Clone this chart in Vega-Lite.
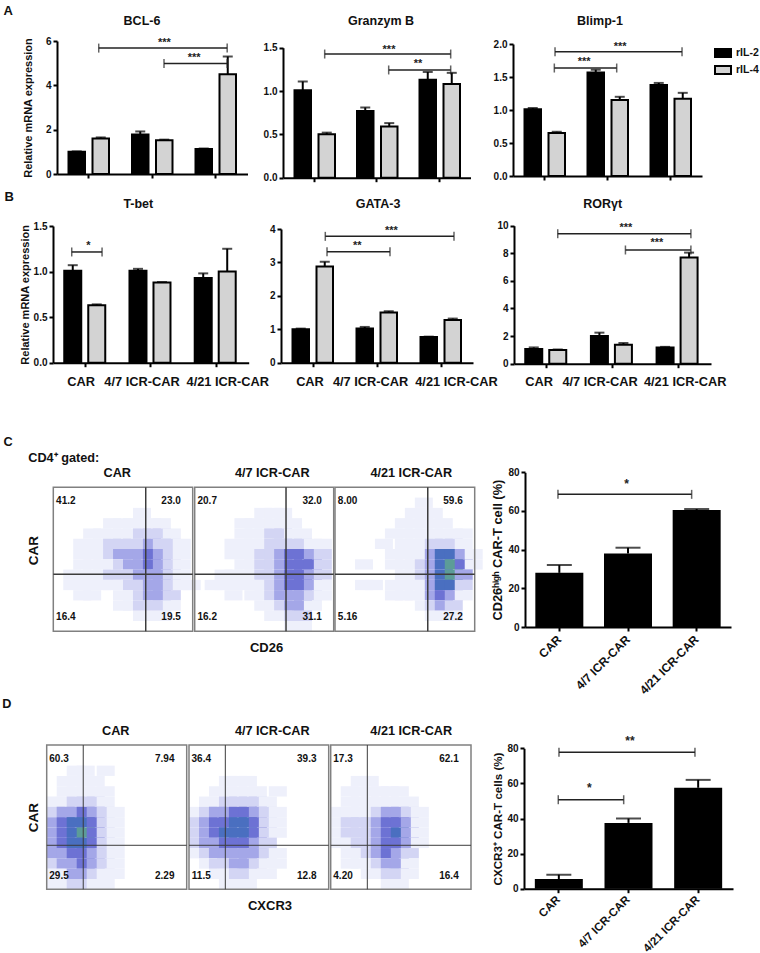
{"$schema":"https://vega.github.io/schema/vega-lite/v6.json","padding":0,"columns":4,"spacing":0,"bounds":"flush","background":"white",
"config":{"font":"Liberation Sans","view":{"stroke":null},"axis":{"grid":false,"labelFontWeight":"bold","labelFontSize":10,"labelColor":"#111","titleFontWeight":"bold","titleColor":"#111","tickColor":"black","domainColor":"black","tickWidth":2,"domainWidth":2,"tickSize":4,"labelPadding":2,"labelFlush":false,"labelOverlap":false},"title":{"fontWeight":"bold","fontSize":12.5,"color":"#111","anchor":"start","frame":"group","baseline":"middle","offset":0},"legend":{"labelFontWeight":"bold","labelFontSize":10.5,"labelColor":"#111"}},
"resolve":{"scale":{"color":"independent"},"legend":{"color":"independent"}},
"datasets":{
"bars":[
{"p":"BCL-6","g":"CAR","s":"rIL-2","v":1.0,"u":1.02},{"p":"BCL-6","g":"CAR","s":"rIL-4","v":1.6,"u":1.65},{"p":"BCL-6","g":"4/7 ICR-CAR","s":"rIL-2","v":1.78,"u":1.92},{"p":"BCL-6","g":"4/7 ICR-CAR","s":"rIL-4","v":1.52,"u":1.55},{"p":"BCL-6","g":"4/21 ICR-CAR","s":"rIL-2","v":1.13,"u":1.15},{"p":"BCL-6","g":"4/21 ICR-CAR","s":"rIL-4","v":4.5,"u":5.3},
{"p":"GZMB","g":"CAR","s":"rIL-2","v":1.01,"u":1.11},{"p":"GZMB","g":"CAR","s":"rIL-4","v":0.5,"u":0.52},{"p":"GZMB","g":"4/7 ICR-CAR","s":"rIL-2","v":0.77,"u":0.81},{"p":"GZMB","g":"4/7 ICR-CAR","s":"rIL-4","v":0.59,"u":0.63},{"p":"GZMB","g":"4/21 ICR-CAR","s":"rIL-2","v":1.13,"u":1.22},{"p":"GZMB","g":"4/21 ICR-CAR","s":"rIL-4","v":1.08,"u":1.21},
{"p":"BLIMP","g":"CAR","s":"rIL-2","v":1.01,"u":1.03},{"p":"BLIMP","g":"CAR","s":"rIL-4","v":0.65,"u":0.67},{"p":"BLIMP","g":"4/7 ICR-CAR","s":"rIL-2","v":1.57,"u":1.61},{"p":"BLIMP","g":"4/7 ICR-CAR","s":"rIL-4","v":1.15,"u":1.2},{"p":"BLIMP","g":"4/21 ICR-CAR","s":"rIL-2","v":1.38,"u":1.41},{"p":"BLIMP","g":"4/21 ICR-CAR","s":"rIL-4","v":1.17,"u":1.26},
{"p":"TBET","g":"CAR","s":"rIL-2","v":1.01,"u":1.07},{"p":"TBET","g":"CAR","s":"rIL-4","v":0.63,"u":0.64},{"p":"TBET","g":"4/7 ICR-CAR","s":"rIL-2","v":1.01,"u":1.03},{"p":"TBET","g":"4/7 ICR-CAR","s":"rIL-4","v":0.88,"u":0.885},{"p":"TBET","g":"4/21 ICR-CAR","s":"rIL-2","v":0.93,"u":0.98},{"p":"TBET","g":"4/21 ICR-CAR","s":"rIL-4","v":1.0,"u":1.25},
{"p":"GATA","g":"CAR","s":"rIL-2","v":1.0,"u":1.02},{"p":"GATA","g":"CAR","s":"rIL-4","v":2.88,"u":3.02},{"p":"GATA","g":"4/7 ICR-CAR","s":"rIL-2","v":1.02,"u":1.07},{"p":"GATA","g":"4/7 ICR-CAR","s":"rIL-4","v":1.5,"u":1.54},{"p":"GATA","g":"4/21 ICR-CAR","s":"rIL-2","v":0.77,"u":0.78},{"p":"GATA","g":"4/21 ICR-CAR","s":"rIL-4","v":1.28,"u":1.32},
{"p":"ROR","g":"CAR","s":"rIL-2","v":1.07,"u":1.18},{"p":"ROR","g":"CAR","s":"rIL-4","v":1.0,"u":1.03},{"p":"ROR","g":"4/7 ICR-CAR","s":"rIL-2","v":2.0,"u":2.25},{"p":"ROR","g":"4/7 ICR-CAR","s":"rIL-4","v":1.37,"u":1.5},{"p":"ROR","g":"4/21 ICR-CAR","s":"rIL-2","v":1.17,"u":1.22},{"p":"ROR","g":"4/21 ICR-CAR","s":"rIL-4","v":7.7,"u":8.05},
{"p":"CD26","g":"CAR","v":28,"u":32},{"p":"CD26","g":"4/7 ICR-CAR","v":38,"u":41},{"p":"CD26","g":"4/21 ICR-CAR","v":60.5,"u":61},
{"p":"CXCR3","g":"CAR","v":5.5,"u":8},{"p":"CXCR3","g":"4/7 ICR-CAR","v":37.5,"u":40},{"p":"CXCR3","g":"4/21 ICR-CAR","v":57.5,"u":62}
],
"brk":[
{"p":"BCL-6","b":1,"x":0.657,"y":5.68},{"p":"BCL-6","b":1,"x":2.68,"y":5.68},{"p":"BCL-6","b":2,"x":1.685,"y":4.99},{"p":"BCL-6","b":2,"x":2.68,"y":4.99},{"p":"BCL-6","s":"***","x":1.69,"y":5.99},{"p":"BCL-6","s":"***","x":2.16,"y":5.32},
{"p":"GZMB","b":1,"x":0.667,"y":1.427},{"p":"GZMB","b":1,"x":2.683,"y":1.427},{"p":"GZMB","b":2,"x":1.691,"y":1.243},{"p":"GZMB","b":2,"x":2.683,"y":1.243},{"p":"GZMB","s":"***","x":1.696,"y":1.5},{"p":"GZMB","s":"**","x":2.16,"y":1.331},
{"p":"BLIMP","b":1,"x":0.667,"y":1.883},{"p":"BLIMP","b":1,"x":2.683,"y":1.883},{"p":"BLIMP","b":2,"x":0.656,"y":1.636},{"p":"BLIMP","b":2,"x":1.646,"y":1.636},{"p":"BLIMP","s":"***","x":1.7,"y":1.99},{"p":"BLIMP","s":"***","x":1.13,"y":1.762},
{"p":"TBET","b":1,"x":0.287,"y":1.215},{"p":"TBET","b":1,"x":0.752,"y":1.215},{"p":"TBET","s":"*","x":0.541,"y":1.302},
{"p":"TBET","l":"CAR","x":0.43,"y":-0.208},{"p":"TBET","l":"4/7 ICR-CAR","x":1.365,"y":-0.208},{"p":"TBET","l":"4/21 ICR-CAR","x":2.68,"y":-0.208},
{"p":"GATA","b":1,"x":0.692,"y":3.78},{"p":"GATA","b":1,"x":2.703,"y":3.78},{"p":"GATA","b":2,"x":0.719,"y":3.32},{"p":"GATA","b":2,"x":1.703,"y":3.32},{"p":"GATA","s":"***","x":1.724,"y":3.99},{"p":"GATA","s":"**","x":1.192,"y":3.55},
{"p":"GATA","l":"CAR","x":0.453,"y":-0.569},{"p":"GATA","l":"4/7 ICR-CAR","x":1.4,"y":-0.569},{"p":"GATA","l":"4/21 ICR-CAR","x":2.742,"y":-0.569},
{"p":"ROR","b":1,"x":0.666,"y":9.42},{"p":"ROR","b":1,"x":2.694,"y":9.42},{"p":"ROR","b":2,"x":1.697,"y":8.24},{"p":"ROR","b":2,"x":2.694,"y":8.24},{"p":"ROR","s":"***","x":1.703,"y":9.96},{"p":"ROR","s":"***","x":2.175,"y":8.87},
{"p":"ROR","l":"CAR","x":0.381,"y":-1.3},{"p":"ROR","l":"4/7 ICR-CAR","x":1.311,"y":-1.3},{"p":"ROR","l":"4/21 ICR-CAR","x":2.607,"y":-1.3},
{"p":"CD26","b":1,"x":0.48,"y":68.6},{"p":"CD26","b":1,"x":2.427,"y":68.6},{"p":"CD26","s":"*","x":1.481,"y":75.1},
{"p":"CXCR3","b":1,"x":0.502,"y":77.7},{"p":"CXCR3","b":1,"x":2.454,"y":77.7},{"p":"CXCR3","b":2,"x":0.492,"y":50.7},{"p":"CXCR3","b":2,"x":1.431,"y":50.7},{"p":"CXCR3","s":"**","x":1.521,"y":85.3},{"p":"CXCR3","s":"*","x":0.937,"y":58.5}
],
"ov":[
{"p":"C1","k":"b","x":0,"y":0,"x2":100,"y2":100},{"p":"C1","k":"v","x":66.3,"y":0},{"p":"C1","k":"v","x":66.3,"y":100},{"p":"C1","k":"h","x":0,"y":60.4},{"p":"C1","k":"h","x":100,"y":60.4},
{"p":"C1","n":"41.2","x":9,"y":9.3},{"p":"C1","n":"23.0","x":84.5,"y":9.3},{"p":"C1","n":"16.4","x":9,"y":90.3},{"p":"C1","n":"19.5","x":84.5,"y":90.3},
{"p":"C1","a":"C","x":-32.5,"y":-31.7},{"p":"C1","a":"CD4⁺ gated:","x":7.5,"y":-20.1},{"p":"C1","a":"CAR","x":45.9,"y":-10.1},
{"p":"C2","k":"b","x":0,"y":0,"x2":100,"y2":100},{"p":"C2","k":"v","x":65.7,"y":0},{"p":"C2","k":"v","x":65.7,"y":100},{"p":"C2","k":"h","x":0,"y":60.4},{"p":"C2","k":"h","x":100,"y":60.4},
{"p":"C2","n":"20.7","x":9,"y":9.3},{"p":"C2","n":"32.0","x":84.5,"y":9.3},{"p":"C2","n":"16.2","x":9,"y":90.3},{"p":"C2","n":"31.1","x":84.5,"y":90.3},{"p":"C2","a":"4/7 ICR-CAR","x":55.8,"y":-10.1},
{"p":"C3","k":"b","x":0,"y":0,"x2":100,"y2":100},{"p":"C3","k":"v","x":66.4,"y":0},{"p":"C3","k":"v","x":66.4,"y":100},{"p":"C3","k":"h","x":0,"y":60.4},{"p":"C3","k":"h","x":100,"y":60.4},
{"p":"C3","n":"8.00","x":9,"y":9.3},{"p":"C3","n":"59.6","x":84.5,"y":9.3},{"p":"C3","n":"5.16","x":9,"y":90.3},{"p":"C3","n":"27.2","x":84.5,"y":90.3},{"p":"C3","a":"4/21 ICR-CAR","x":54.6,"y":-10.1},
{"p":"D1","k":"b","x":0,"y":0,"x2":100,"y2":100},{"p":"D1","k":"v","x":26.1,"y":0},{"p":"D1","k":"v","x":26.1,"y":100},{"p":"D1","k":"h","x":0,"y":69.5},{"p":"D1","k":"h","x":100,"y":69.5},
{"p":"D1","n":"60.3","x":8.8,"y":9.5},{"p":"D1","n":"7.94","x":84.3,"y":9.5},{"p":"D1","n":"29.5","x":8.8,"y":90.6},{"p":"D1","n":"2.29","x":84.3,"y":90.6},
{"p":"D1","a":"D","x":-28.5,"y":-28.2},{"p":"D1","a":"CAR","x":49.3,"y":-9.5},
{"p":"D2","k":"b","x":0,"y":0,"x2":100,"y2":100},{"p":"D2","k":"v","x":26,"y":0},{"p":"D2","k":"v","x":26,"y":100},{"p":"D2","k":"h","x":0,"y":69.5},{"p":"D2","k":"h","x":100,"y":69.5},
{"p":"D2","n":"36.4","x":8.8,"y":9.5},{"p":"D2","n":"39.3","x":84.3,"y":9.5},{"p":"D2","n":"11.5","x":8.8,"y":90.6},{"p":"D2","n":"12.8","x":84.3,"y":90.6},{"p":"D2","a":"4/7 ICR-CAR","x":59.6,"y":-9.5},
{"p":"D3","k":"b","x":0,"y":0,"x2":100,"y2":100},{"p":"D3","k":"v","x":26.1,"y":0},{"p":"D3","k":"v","x":26.1,"y":100},{"p":"D3","k":"h","x":0,"y":69.5},{"p":"D3","k":"h","x":100,"y":69.5},
{"p":"D3","n":"17.3","x":8.8,"y":9.5},{"p":"D3","n":"62.1","x":84.3,"y":9.5},{"p":"D3","n":"4.20","x":8.8,"y":90.6},{"p":"D3","n":"16.4","x":84.3,"y":90.6},{"p":"D3","a":"4/21 ICR-CAR","x":57.4,"y":-9.5}
],
"c1":[{"c":8,"r":2,"d":1},{"c":5,"r":3,"d":1},{"c":6,"r":3,"d":1},{"c":7,"r":3,"d":1},{"c":8,"r":3,"d":1},{"c":9,"r":3,"d":1},{"c":10,"r":3,"d":1},{"c":3,"r":4,"d":1},{"c":4,"r":4,"d":1},{"c":5,"r":4,"d":1},{"c":6,"r":4,"d":1},{"c":7,"r":4,"d":1},{"c":8,"r":4,"d":2},{"c":9,"r":4,"d":2},{"c":10,"r":4,"d":2},{"c":11,"r":4,"d":1},{"c":2,"r":5,"d":1},{"c":3,"r":5,"d":1},{"c":4,"r":5,"d":1},{"c":5,"r":5,"d":2},{"c":6,"r":5,"d":2},{"c":7,"r":5,"d":2},{"c":8,"r":5,"d":2},{"c":9,"r":5,"d":3},{"c":10,"r":5,"d":2},{"c":11,"r":5,"d":2},{"c":12,"r":5,"d":1},{"c":2,"r":6,"d":1},{"c":3,"r":6,"d":1},{"c":4,"r":6,"d":1},{"c":5,"r":6,"d":2},{"c":6,"r":6,"d":3},{"c":7,"r":6,"d":3},{"c":8,"r":6,"d":3},{"c":9,"r":6,"d":4},{"c":10,"r":6,"d":3},{"c":11,"r":6,"d":2},{"c":12,"r":6,"d":1},{"c":2,"r":7,"d":1},{"c":3,"r":7,"d":1},{"c":4,"r":7,"d":1},{"c":5,"r":7,"d":1},{"c":6,"r":7,"d":2},{"c":7,"r":7,"d":3},{"c":8,"r":7,"d":3},{"c":9,"r":7,"d":4},{"c":10,"r":7,"d":3},{"c":11,"r":7,"d":2},{"c":12,"r":7,"d":1},{"c":1,"r":8,"d":1},{"c":2,"r":8,"d":1},{"c":3,"r":8,"d":1},{"c":4,"r":8,"d":1},{"c":5,"r":8,"d":2},{"c":6,"r":8,"d":2},{"c":7,"r":8,"d":2},{"c":8,"r":8,"d":3},{"c":9,"r":8,"d":3},{"c":10,"r":8,"d":3},{"c":11,"r":8,"d":2},{"c":12,"r":8,"d":1},{"c":1,"r":9,"d":1},{"c":2,"r":9,"d":1},{"c":3,"r":9,"d":1},{"c":4,"r":9,"d":1},{"c":5,"r":9,"d":1},{"c":6,"r":9,"d":1},{"c":7,"r":9,"d":2},{"c":8,"r":9,"d":2},{"c":9,"r":9,"d":3},{"c":10,"r":9,"d":3},{"c":11,"r":9,"d":2},{"c":12,"r":9,"d":1},{"c":13,"r":9,"d":1},{"c":2,"r":10,"d":1},{"c":3,"r":10,"d":1},{"c":6,"r":10,"d":1},{"c":7,"r":10,"d":1},{"c":8,"r":10,"d":2},{"c":9,"r":10,"d":3},{"c":10,"r":10,"d":3},{"c":11,"r":10,"d":2},{"c":6,"r":11,"d":1},{"c":7,"r":11,"d":1},{"c":8,"r":11,"d":2},{"c":9,"r":11,"d":2},{"c":10,"r":11,"d":2},{"c":11,"r":11,"d":1},{"c":8,"r":12,"d":1},{"c":9,"r":12,"d":1},{"c":10,"r":12,"d":1}],
"c2":[{"c":6,"r":2,"d":1},{"c":7,"r":2,"d":1},{"c":8,"r":2,"d":1},{"c":4,"r":3,"d":1},{"c":5,"r":3,"d":1},{"c":6,"r":3,"d":1},{"c":7,"r":3,"d":1},{"c":8,"r":3,"d":1},{"c":9,"r":3,"d":1},{"c":4,"r":4,"d":1},{"c":5,"r":4,"d":1},{"c":6,"r":4,"d":1},{"c":7,"r":4,"d":2},{"c":8,"r":4,"d":2},{"c":9,"r":4,"d":1},{"c":10,"r":4,"d":1},{"c":3,"r":5,"d":1},{"c":4,"r":5,"d":1},{"c":5,"r":5,"d":1},{"c":6,"r":5,"d":1},{"c":7,"r":5,"d":2},{"c":8,"r":5,"d":2},{"c":9,"r":5,"d":2},{"c":10,"r":5,"d":2},{"c":11,"r":5,"d":1},{"c":12,"r":5,"d":1},{"c":3,"r":6,"d":1},{"c":4,"r":6,"d":1},{"c":5,"r":6,"d":1},{"c":6,"r":6,"d":2},{"c":7,"r":6,"d":2},{"c":8,"r":6,"d":3},{"c":9,"r":6,"d":4},{"c":10,"r":6,"d":4},{"c":11,"r":6,"d":3},{"c":12,"r":6,"d":2},{"c":4,"r":7,"d":1},{"c":5,"r":7,"d":1},{"c":6,"r":7,"d":2},{"c":7,"r":7,"d":2},{"c":8,"r":7,"d":3},{"c":9,"r":7,"d":4},{"c":10,"r":7,"d":4},{"c":11,"r":7,"d":4},{"c":12,"r":7,"d":2},{"c":2,"r":8,"d":1},{"c":3,"r":8,"d":1},{"c":4,"r":8,"d":1},{"c":5,"r":8,"d":1},{"c":6,"r":8,"d":2},{"c":7,"r":8,"d":2},{"c":8,"r":8,"d":3},{"c":9,"r":8,"d":4},{"c":10,"r":8,"d":4},{"c":11,"r":8,"d":3},{"c":12,"r":8,"d":2},{"c":1,"r":9,"d":1},{"c":2,"r":9,"d":1},{"c":3,"r":9,"d":1},{"c":4,"r":9,"d":1},{"c":5,"r":9,"d":1},{"c":6,"r":9,"d":1},{"c":7,"r":9,"d":2},{"c":8,"r":9,"d":3},{"c":9,"r":9,"d":4},{"c":10,"r":9,"d":4},{"c":11,"r":9,"d":3},{"c":12,"r":9,"d":1},{"c":3,"r":10,"d":1},{"c":5,"r":10,"d":1},{"c":6,"r":10,"d":1},{"c":7,"r":10,"d":2},{"c":8,"r":10,"d":3},{"c":9,"r":10,"d":3},{"c":10,"r":10,"d":3},{"c":11,"r":10,"d":2},{"c":12,"r":10,"d":1},{"c":6,"r":11,"d":1},{"c":7,"r":11,"d":1},{"c":8,"r":11,"d":2},{"c":9,"r":11,"d":3},{"c":10,"r":11,"d":3},{"c":11,"r":11,"d":1},{"c":7,"r":12,"d":1},{"c":8,"r":12,"d":1},{"c":9,"r":12,"d":2},{"c":10,"r":12,"d":2},{"c":9,"r":13,"d":1},{"c":10,"r":13,"d":1}],
"c3":[{"c":8,"r":1,"d":1},{"c":7,"r":2,"d":1},{"c":8,"r":2,"d":1},{"c":9,"r":2,"d":1},{"c":6,"r":3,"d":1},{"c":7,"r":3,"d":1},{"c":8,"r":3,"d":1},{"c":9,"r":3,"d":1},{"c":10,"r":3,"d":1},{"c":5,"r":4,"d":1},{"c":6,"r":4,"d":1},{"c":7,"r":4,"d":1},{"c":8,"r":4,"d":1},{"c":9,"r":4,"d":1},{"c":10,"r":4,"d":1},{"c":11,"r":4,"d":1},{"c":12,"r":4,"d":1},{"c":4,"r":5,"d":1},{"c":6,"r":5,"d":1},{"c":7,"r":5,"d":1},{"c":8,"r":5,"d":1},{"c":9,"r":5,"d":2},{"c":10,"r":5,"d":2},{"c":11,"r":5,"d":2},{"c":12,"r":5,"d":1},{"c":5,"r":6,"d":1},{"c":6,"r":6,"d":1},{"c":7,"r":6,"d":1},{"c":8,"r":6,"d":1},{"c":9,"r":6,"d":3},{"c":10,"r":6,"d":5},{"c":11,"r":6,"d":5},{"c":12,"r":6,"d":3},{"c":13,"r":6,"d":1},{"c":2,"r":7,"d":1},{"c":5,"r":7,"d":1},{"c":6,"r":7,"d":1},{"c":7,"r":7,"d":1},{"c":8,"r":7,"d":2},{"c":9,"r":7,"d":3},{"c":10,"r":7,"d":5},{"c":11,"r":7,"d":6},{"c":12,"r":7,"d":4},{"c":13,"r":7,"d":1},{"c":6,"r":8,"d":1},{"c":7,"r":8,"d":1},{"c":8,"r":8,"d":2},{"c":9,"r":8,"d":3},{"c":10,"r":8,"d":5},{"c":11,"r":8,"d":6},{"c":12,"r":8,"d":3},{"c":2,"r":9,"d":1},{"c":3,"r":9,"d":1},{"c":5,"r":9,"d":1},{"c":6,"r":9,"d":1},{"c":7,"r":9,"d":1},{"c":8,"r":9,"d":1},{"c":9,"r":9,"d":3},{"c":10,"r":9,"d":5},{"c":11,"r":9,"d":5},{"c":12,"r":9,"d":2},{"c":5,"r":10,"d":1},{"c":6,"r":10,"d":1},{"c":7,"r":10,"d":1},{"c":8,"r":10,"d":1},{"c":9,"r":10,"d":3},{"c":10,"r":10,"d":4},{"c":11,"r":10,"d":3},{"c":12,"r":10,"d":1},{"c":8,"r":11,"d":1},{"c":9,"r":11,"d":2},{"c":10,"r":11,"d":3},{"c":11,"r":11,"d":2},{"c":9,"r":12,"d":1},{"c":10,"r":12,"d":1},{"c":11,"r":12,"d":1}],
"d1":[{"c":2,"r":2,"d":1},{"c":3,"r":2,"d":1},{"c":5,"r":2,"d":1},{"c":1,"r":3,"d":1},{"c":2,"r":3,"d":1},{"c":3,"r":3,"d":1},{"c":4,"r":3,"d":1},{"c":1,"r":4,"d":1},{"c":2,"r":4,"d":1},{"c":3,"r":4,"d":1},{"c":4,"r":4,"d":1},{"c":5,"r":4,"d":1},{"c":0,"r":5,"d":1},{"c":1,"r":5,"d":1},{"c":2,"r":5,"d":2},{"c":3,"r":5,"d":2},{"c":4,"r":5,"d":2},{"c":5,"r":5,"d":1},{"c":0,"r":6,"d":2},{"c":1,"r":6,"d":3},{"c":2,"r":6,"d":3},{"c":3,"r":6,"d":4},{"c":4,"r":6,"d":3},{"c":5,"r":6,"d":2},{"c":6,"r":6,"d":1},{"c":0,"r":7,"d":3},{"c":1,"r":7,"d":4},{"c":2,"r":7,"d":5},{"c":3,"r":7,"d":5},{"c":4,"r":7,"d":4},{"c":5,"r":7,"d":2},{"c":6,"r":7,"d":1},{"c":0,"r":8,"d":3},{"c":1,"r":8,"d":4},{"c":2,"r":8,"d":5},{"c":3,"r":8,"d":6},{"c":4,"r":8,"d":4},{"c":5,"r":8,"d":2},{"c":6,"r":8,"d":1},{"c":0,"r":9,"d":3},{"c":1,"r":9,"d":4},{"c":2,"r":9,"d":5},{"c":3,"r":9,"d":5},{"c":4,"r":9,"d":4},{"c":5,"r":9,"d":2},{"c":6,"r":9,"d":1},{"c":0,"r":10,"d":3},{"c":1,"r":10,"d":3},{"c":2,"r":10,"d":4},{"c":3,"r":10,"d":4},{"c":4,"r":10,"d":3},{"c":5,"r":10,"d":2},{"c":6,"r":10,"d":1},{"c":0,"r":11,"d":2},{"c":1,"r":11,"d":3},{"c":2,"r":11,"d":3},{"c":3,"r":11,"d":4},{"c":4,"r":11,"d":3},{"c":5,"r":11,"d":2},{"c":6,"r":11,"d":1},{"c":0,"r":12,"d":1},{"c":1,"r":12,"d":1},{"c":2,"r":12,"d":3},{"c":3,"r":12,"d":3},{"c":4,"r":12,"d":2},{"c":5,"r":12,"d":1},{"c":6,"r":12,"d":1},{"c":0,"r":13,"d":1},{"c":1,"r":13,"d":1},{"c":2,"r":13,"d":2},{"c":3,"r":13,"d":2},{"c":4,"r":13,"d":1},{"c":5,"r":13,"d":1}],
"d2":[{"c":3,"r":3,"d":1},{"c":4,"r":3,"d":1},{"c":5,"r":3,"d":1},{"c":2,"r":4,"d":1},{"c":3,"r":4,"d":1},{"c":4,"r":4,"d":1},{"c":5,"r":4,"d":1},{"c":6,"r":4,"d":1},{"c":8,"r":4,"d":1},{"c":1,"r":5,"d":1},{"c":2,"r":5,"d":1},{"c":3,"r":5,"d":2},{"c":4,"r":5,"d":2},{"c":5,"r":5,"d":2},{"c":6,"r":5,"d":2},{"c":7,"r":5,"d":1},{"c":0,"r":6,"d":1},{"c":1,"r":6,"d":2},{"c":2,"r":6,"d":3},{"c":3,"r":6,"d":3},{"c":4,"r":6,"d":4},{"c":5,"r":6,"d":4},{"c":6,"r":6,"d":3},{"c":7,"r":6,"d":2},{"c":8,"r":6,"d":1},{"c":0,"r":7,"d":2},{"c":1,"r":7,"d":3},{"c":2,"r":7,"d":4},{"c":3,"r":7,"d":4},{"c":4,"r":7,"d":5},{"c":5,"r":7,"d":5},{"c":6,"r":7,"d":4},{"c":7,"r":7,"d":2},{"c":8,"r":7,"d":1},{"c":0,"r":8,"d":2},{"c":1,"r":8,"d":3},{"c":2,"r":8,"d":4},{"c":3,"r":8,"d":5},{"c":4,"r":8,"d":5},{"c":5,"r":8,"d":5},{"c":6,"r":8,"d":4},{"c":7,"r":8,"d":2},{"c":8,"r":8,"d":1},{"c":0,"r":9,"d":2},{"c":1,"r":9,"d":3},{"c":2,"r":9,"d":3},{"c":3,"r":9,"d":4},{"c":4,"r":9,"d":4},{"c":5,"r":9,"d":4},{"c":6,"r":9,"d":3},{"c":7,"r":9,"d":2},{"c":0,"r":10,"d":1},{"c":1,"r":10,"d":2},{"c":2,"r":10,"d":3},{"c":3,"r":10,"d":3},{"c":4,"r":10,"d":3},{"c":5,"r":10,"d":3},{"c":6,"r":10,"d":3},{"c":7,"r":10,"d":2},{"c":8,"r":10,"d":1},{"c":1,"r":11,"d":1},{"c":2,"r":11,"d":2},{"c":3,"r":11,"d":2},{"c":4,"r":11,"d":3},{"c":5,"r":11,"d":3},{"c":6,"r":11,"d":2},{"c":7,"r":11,"d":1},{"c":8,"r":11,"d":1},{"c":2,"r":12,"d":1},{"c":3,"r":12,"d":1},{"c":4,"r":12,"d":2},{"c":5,"r":12,"d":2},{"c":6,"r":12,"d":1},{"c":7,"r":12,"d":1},{"c":3,"r":13,"d":1},{"c":4,"r":13,"d":1},{"c":5,"r":13,"d":1}],
"d3":[{"c":2,"r":3,"d":1},{"c":3,"r":3,"d":1},{"c":1,"r":4,"d":1},{"c":2,"r":4,"d":1},{"c":3,"r":4,"d":1},{"c":4,"r":4,"d":1},{"c":5,"r":4,"d":1},{"c":6,"r":4,"d":1},{"c":1,"r":5,"d":1},{"c":2,"r":5,"d":1},{"c":3,"r":5,"d":1},{"c":4,"r":5,"d":1},{"c":5,"r":5,"d":1},{"c":6,"r":5,"d":1},{"c":7,"r":5,"d":1},{"c":0,"r":6,"d":1},{"c":1,"r":6,"d":1},{"c":2,"r":6,"d":1},{"c":3,"r":6,"d":1},{"c":4,"r":6,"d":2},{"c":5,"r":6,"d":3},{"c":6,"r":6,"d":3},{"c":7,"r":6,"d":2},{"c":8,"r":6,"d":1},{"c":0,"r":7,"d":1},{"c":1,"r":7,"d":2},{"c":2,"r":7,"d":2},{"c":3,"r":7,"d":2},{"c":4,"r":7,"d":3},{"c":5,"r":7,"d":4},{"c":6,"r":7,"d":4},{"c":7,"r":7,"d":3},{"c":8,"r":7,"d":1},{"c":0,"r":8,"d":1},{"c":1,"r":8,"d":2},{"c":2,"r":8,"d":2},{"c":3,"r":8,"d":2},{"c":4,"r":8,"d":3},{"c":5,"r":8,"d":4},{"c":6,"r":8,"d":5},{"c":7,"r":8,"d":3},{"c":8,"r":8,"d":1},{"c":0,"r":9,"d":1},{"c":1,"r":9,"d":1},{"c":2,"r":9,"d":2},{"c":3,"r":9,"d":2},{"c":4,"r":9,"d":3},{"c":5,"r":9,"d":4},{"c":6,"r":9,"d":4},{"c":7,"r":9,"d":3},{"c":8,"r":9,"d":1},{"c":1,"r":10,"d":1},{"c":2,"r":10,"d":1},{"c":3,"r":10,"d":2},{"c":4,"r":10,"d":3},{"c":5,"r":10,"d":4},{"c":6,"r":10,"d":3},{"c":7,"r":10,"d":2},{"c":1,"r":11,"d":1},{"c":2,"r":11,"d":1},{"c":3,"r":11,"d":1},{"c":4,"r":11,"d":2},{"c":5,"r":11,"d":3},{"c":6,"r":11,"d":3},{"c":7,"r":11,"d":1},{"c":3,"r":12,"d":1},{"c":4,"r":12,"d":1},{"c":5,"r":12,"d":2},{"c":6,"r":12,"d":2},{"c":7,"r":12,"d":1},{"c":5,"r":13,"d":1},{"c":6,"r":13,"d":1}]
},
"concat":[
{"width":190,"height":195,"title":{"text":"BCL-6","align":"center","dx":142,"dy":31},"resolve":{"scale":{"x":"independent"}},"layer":[
{"data":{"name":"bars"},"transform":[{"filter":"datum.p=='BCL-6'"}],"encoding":{"x":{"field":"g","type":"nominal","scale":{"type":"band","domain":["CAR","4/7 ICR-CAR","4/21 ICR-CAR"],"range":[57,247.5],"paddingInner":0,"paddingOuter":0},"axis":{"labels":false,"title":"A","titleFontSize":13,"titleX":3,"titleY":-164,"titleAlign":"left","titleBaseline":"middle","offset":-21}},"xOffset":{"field":"s","type":"nominal","scale":{"type":"point","padding":0,"domain":["rIL-2","rIL-4"],"range":[19.75,43.75]}}},"layer":[
{"mark":{"type":"bar","width":16.5,"stroke":"black","strokeWidth":2},"encoding":{"y":{"field":"v","type":"quantitative","stack":null,"scale":{"domain":[0,6],"range":[174,41],"nice":false},"axis":{"values":[0,2,4,6],"format":"d","offset":-57,"title":"Relative mRNA expression","titleFontSize":11,"titlePadding":12}},"color":{"field":"s","type":"nominal","scale":{"domain":["rIL-2","rIL-4"],"range":["black","#d3d3d3"]},"legend":null}}},
{"mark":{"type":"rule","color":"black","strokeWidth":2},"encoding":{"y":{"field":"v","type":"quantitative","scale":{"domain":[0,6],"range":[174,41],"nice":false}},"y2":{"field":"u"}}},
{"mark":{"type":"tick","color":"black","size":10,"thickness":2},"encoding":{"y":{"field":"u","type":"quantitative","scale":{"domain":[0,6],"range":[174,41],"nice":false}}}}]},
{"data":{"name":"brk"},"transform":[{"filter":"datum.p=='BCL-6'"}],"encoding":{"x":{"field":"x","type":"quantitative","scale":{"domain":[0,3],"range":[57,247.5],"nice":false},"axis":null},"y":{"field":"y","type":"quantitative","scale":{"domain":[0,6],"range":[174,41],"nice":false}}},"layer":[
{"transform":[{"filter":"datum.b"}],"mark":{"type":"line","color":"#222","strokeWidth":1.5},"encoding":{"detail":{"field":"b"}}},
{"transform":[{"filter":"datum.b"}],"mark":{"type":"tick","orient":"vertical","color":"#222","size":9,"thickness":1.5},"encoding":{}},
{"transform":[{"filter":"datum.s"}],"mark":{"type":"text","fontWeight":"bold","fontSize":11,"dy":2,"color":"#222"},"encoding":{"text":{"field":"s"}}}]}]},
{"width":140,"height":195,"title":{"text":"Granzym B","align":"center","dx":191,"dy":31},"resolve":{"scale":{"x":"independent"}},"layer":[
{"data":{"name":"bars"},"transform":[{"filter":"datum.p=='GZMB'"}],"encoding":{"x":{"field":"g","type":"nominal","scale":{"type":"band","domain":["CAR","4/7 ICR-CAR","4/21 ICR-CAR"],"range":[93,280.5],"paddingInner":0,"paddingOuter":0},"axis":{"labels":false,"title":null,"offset":-17.3}},"xOffset":{"field":"s","type":"nominal","scale":{"type":"point","padding":0,"domain":["rIL-2","rIL-4"],"range":[19.55,42.95]}}},"layer":[
{"mark":{"type":"bar","width":16.5,"stroke":"black","strokeWidth":2},"encoding":{"y":{"field":"v","type":"quantitative","stack":null,"scale":{"domain":[0,1.5],"range":[177.7,47.7],"nice":false},"axis":{"values":[0,0.5,1,1.5],"format":".1f","offset":-93,"title":null}},"color":{"field":"s","type":"nominal","scale":{"domain":["rIL-2","rIL-4"],"range":["black","#d3d3d3"]},"legend":null}}},
{"mark":{"type":"rule","color":"black","strokeWidth":2},"encoding":{"y":{"field":"v","type":"quantitative","scale":{"domain":[0,1.5],"range":[177.7,47.7],"nice":false}},"y2":{"field":"u"}}},
{"mark":{"type":"tick","color":"black","size":10,"thickness":2},"encoding":{"y":{"field":"u","type":"quantitative","scale":{"domain":[0,1.5],"range":[177.7,47.7],"nice":false}}}}]},
{"data":{"name":"brk"},"transform":[{"filter":"datum.p=='GZMB'"}],"encoding":{"x":{"field":"x","type":"quantitative","scale":{"domain":[0,3],"range":[93,280.5],"nice":false},"axis":null},"y":{"field":"y","type":"quantitative","scale":{"domain":[0,1.5],"range":[177.7,47.7],"nice":false}}},"layer":[
{"transform":[{"filter":"datum.b"}],"mark":{"type":"line","color":"#222","strokeWidth":1.5},"encoding":{"detail":{"field":"b"}}},
{"transform":[{"filter":"datum.b"}],"mark":{"type":"tick","orient":"vertical","color":"#222","size":9,"thickness":1.5},"encoding":{}},
{"transform":[{"filter":"datum.s"}],"mark":{"type":"text","fontWeight":"bold","fontSize":11,"dy":2,"color":"#222"},"encoding":{"text":{"field":"s"}}}]}]},
{"width":165,"height":195,"title":{"text":"Blimp-1","align":"center","dx":270,"dy":31},"resolve":{"scale":{"x":"independent"}},"layer":[
{"data":{"name":"bars"},"transform":[{"filter":"datum.p=='BLIMP'"}],"encoding":{"x":{"field":"g","type":"nominal","scale":{"type":"band","domain":["CAR","4/7 ICR-CAR","4/21 ICR-CAR"],"range":[183,372],"paddingInner":0,"paddingOuter":0},"axis":{"labels":false,"title":null,"offset":-19}},"xOffset":{"field":"s","type":"nominal","scale":{"type":"point","padding":0,"domain":["rIL-2","rIL-4"],"range":[19.8,43.2]}}},"layer":[
{"mark":{"type":"bar","width":16.5,"stroke":"black","strokeWidth":2},"encoding":{"y":{"field":"v","type":"quantitative","stack":null,"scale":{"domain":[0,2],"range":[176,44],"nice":false},"axis":{"values":[0,0.5,1,1.5,2],"format":".1f","offset":-183,"title":null}},"color":{"field":"s","type":"nominal","title":null,"scale":{"domain":["rIL-2","rIL-4"],"range":["black","#d3d3d3"]},"legend":{"orient":"none","legendX":384,"legendY":44,"padding":0,"symbolType":"M-1,-0.5H1V0.5H-1Z","symbolSize":256,"symbolStrokeColor":"black","symbolStrokeWidth":2,"symbolOpacity":1,"labelOffset":4,"rowPadding":0}}}},
{"mark":{"type":"rule","color":"black","strokeWidth":2},"encoding":{"y":{"field":"v","type":"quantitative","scale":{"domain":[0,2],"range":[176,44],"nice":false}},"y2":{"field":"u"}}},
{"mark":{"type":"tick","color":"black","size":10,"thickness":2},"encoding":{"y":{"field":"u","type":"quantitative","scale":{"domain":[0,2],"range":[176,44],"nice":false}}}}]},
{"data":{"name":"brk"},"transform":[{"filter":"datum.p=='BLIMP'"}],"encoding":{"x":{"field":"x","type":"quantitative","scale":{"domain":[0,3],"range":[183,372],"nice":false},"axis":null},"y":{"field":"y","type":"quantitative","scale":{"domain":[0,2],"range":[176,44],"nice":false}}},"layer":[
{"transform":[{"filter":"datum.b"}],"mark":{"type":"line","color":"#222","strokeWidth":1.5},"encoding":{"detail":{"field":"b"}}},
{"transform":[{"filter":"datum.b"}],"mark":{"type":"tick","orient":"vertical","color":"#222","size":9,"thickness":1.5},"encoding":{}},
{"transform":[{"filter":"datum.s"}],"mark":{"type":"text","fontWeight":"bold","fontSize":11,"dy":2,"color":"#222"},"encoding":{"text":{"field":"s"}}}]}]},
{"width":265,"height":195,"data":{"values":[]},"mark":"point","encoding":{}},
{"width":190,"height":205,"title":{"text":"T-bet","align":"center","dx":138.3,"dy":24.4},"resolve":{"scale":{"x":"independent"}},"layer":[
{"data":{"name":"bars"},"transform":[{"filter":"datum.p=='TBET'"}],"encoding":{"x":{"field":"g","type":"nominal","scale":{"type":"band","domain":["CAR","4/7 ICR-CAR","4/21 ICR-CAR"],"range":[53,248.7],"paddingInner":0,"paddingOuter":0},"axis":{"labels":false,"title":"B","titleFontSize":13,"titleX":4,"titleY":-166.7,"titleAlign":"left","titleBaseline":"middle","offset":-37.3}},"xOffset":{"field":"s","type":"nominal","scale":{"type":"point","padding":0,"domain":["rIL-2","rIL-4"],"range":[20.6,44.6]}}},"layer":[
{"mark":{"type":"bar","width":17,"stroke":"black","strokeWidth":2},"encoding":{"y":{"field":"v","type":"quantitative","stack":null,"scale":{"domain":[0,1.5],"range":[167.7,31],"nice":false},"axis":{"values":[0,0.5,1,1.5],"format":".1f","offset":-53,"title":"Relative mRNA expression","titleFontSize":11,"titlePadding":3}},"color":{"field":"s","type":"nominal","scale":{"domain":["rIL-2","rIL-4"],"range":["black","#d3d3d3"]},"legend":null}}},
{"mark":{"type":"rule","color":"black","strokeWidth":2},"encoding":{"y":{"field":"v","type":"quantitative","scale":{"domain":[0,1.5],"range":[167.7,31],"nice":false}},"y2":{"field":"u"}}},
{"mark":{"type":"tick","color":"black","size":10,"thickness":2},"encoding":{"y":{"field":"u","type":"quantitative","scale":{"domain":[0,1.5],"range":[167.7,31],"nice":false}}}}]},
{"data":{"name":"brk"},"transform":[{"filter":"datum.p=='TBET'"}],"encoding":{"x":{"field":"x","type":"quantitative","scale":{"domain":[0,3],"range":[53,248.7],"nice":false},"axis":null},"y":{"field":"y","type":"quantitative","scale":{"domain":[0,1.5],"range":[167.7,31],"nice":false}}},"layer":[
{"transform":[{"filter":"datum.b"}],"mark":{"type":"line","color":"#222","strokeWidth":1.5},"encoding":{"detail":{"field":"b"}}},
{"transform":[{"filter":"datum.b"}],"mark":{"type":"tick","orient":"vertical","color":"#222","size":9,"thickness":1.5},"encoding":{}},
{"transform":[{"filter":"datum.s"}],"mark":{"type":"text","fontWeight":"bold","fontSize":11,"dy":2,"color":"#222"},"encoding":{"text":{"field":"s"}}},
{"transform":[{"filter":"datum.l"}],"mark":{"type":"text","fontWeight":"bold","fontSize":12.8,"color":"#111"},"encoding":{"text":{"field":"l"}}}]}]},
{"width":140,"height":205,"title":{"text":"GATA-3","align":"center","dx":188,"dy":19.4},"resolve":{"scale":{"x":"independent"}},"layer":[
{"data":{"name":"bars"},"transform":[{"filter":"datum.p=='GATA'"}],"encoding":{"x":{"field":"g","type":"nominal","scale":{"type":"band","domain":["CAR","4/7 ICR-CAR","4/21 ICR-CAR"],"range":[91,283],"paddingInner":0,"paddingOuter":0},"axis":{"labels":false,"title":null,"offset":-37.3}},"xOffset":{"field":"s","type":"nominal","scale":{"type":"point","padding":0,"domain":["rIL-2","rIL-4"],"range":[20,44]}}},"layer":[
{"mark":{"type":"bar","width":16.5,"stroke":"black","strokeWidth":2},"encoding":{"y":{"field":"v","type":"quantitative","stack":null,"scale":{"domain":[0,4],"range":[167.7,34],"nice":false},"axis":{"values":[0,1,2,3,4],"format":"d","offset":-91,"title":null}},"color":{"field":"s","type":"nominal","scale":{"domain":["rIL-2","rIL-4"],"range":["black","#d3d3d3"]},"legend":null}}},
{"mark":{"type":"rule","color":"black","strokeWidth":2},"encoding":{"y":{"field":"v","type":"quantitative","scale":{"domain":[0,4],"range":[167.7,34],"nice":false}},"y2":{"field":"u"}}},
{"mark":{"type":"tick","color":"black","size":10,"thickness":2},"encoding":{"y":{"field":"u","type":"quantitative","scale":{"domain":[0,4],"range":[167.7,34],"nice":false}}}}]},
{"data":{"name":"brk"},"transform":[{"filter":"datum.p=='GATA'"}],"encoding":{"x":{"field":"x","type":"quantitative","scale":{"domain":[0,3],"range":[91,283],"nice":false},"axis":null},"y":{"field":"y","type":"quantitative","scale":{"domain":[0,4],"range":[167.7,34],"nice":false}}},"layer":[
{"transform":[{"filter":"datum.b"}],"mark":{"type":"line","color":"#222","strokeWidth":1.5},"encoding":{"detail":{"field":"b"}}},
{"transform":[{"filter":"datum.b"}],"mark":{"type":"tick","orient":"vertical","color":"#222","size":9,"thickness":1.5},"encoding":{}},
{"transform":[{"filter":"datum.s"}],"mark":{"type":"text","fontWeight":"bold","fontSize":11,"dy":2,"color":"#222"},"encoding":{"text":{"field":"s"}}},
{"transform":[{"filter":"datum.l"}],"mark":{"type":"text","fontWeight":"bold","fontSize":12.8,"color":"#111"},"encoding":{"text":{"field":"l"}}}]}]},
{"width":165,"height":205,"title":{"text":"RORγt","align":"center","dx":272.7,"dy":19.4},"resolve":{"scale":{"x":"independent"}},"layer":[
{"data":{"name":"bars"},"transform":[{"filter":"datum.p=='ROR'"}],"encoding":{"x":{"field":"g","type":"nominal","scale":{"type":"band","domain":["CAR","4/7 ICR-CAR","4/21 ICR-CAR"],"range":[184,381],"paddingInner":0,"paddingOuter":0},"axis":{"labels":false,"title":null,"offset":-36.3}},"xOffset":{"field":"s","type":"nominal","scale":{"type":"point","padding":0,"domain":["rIL-2","rIL-4"],"range":[20.6,45]}}},"layer":[
{"mark":{"type":"bar","width":17,"stroke":"black","strokeWidth":2},"encoding":{"y":{"field":"v","type":"quantitative","stack":null,"scale":{"domain":[0,10],"range":[168.7,30.7],"nice":false},"axis":{"values":[0,2,4,6,8,10],"format":"d","offset":-184,"title":null}},"color":{"field":"s","type":"nominal","scale":{"domain":["rIL-2","rIL-4"],"range":["black","#d3d3d3"]},"legend":null}}},
{"mark":{"type":"rule","color":"black","strokeWidth":2},"encoding":{"y":{"field":"v","type":"quantitative","scale":{"domain":[0,10],"range":[168.7,30.7],"nice":false}},"y2":{"field":"u"}}},
{"mark":{"type":"tick","color":"black","size":10,"thickness":2},"encoding":{"y":{"field":"u","type":"quantitative","scale":{"domain":[0,10],"range":[168.7,30.7],"nice":false}}}}]},
{"data":{"name":"brk"},"transform":[{"filter":"datum.p=='ROR'"}],"encoding":{"x":{"field":"x","type":"quantitative","scale":{"domain":[0,3],"range":[184,381],"nice":false},"axis":null},"y":{"field":"y","type":"quantitative","scale":{"domain":[0,10],"range":[168.7,30.7],"nice":false}}},"layer":[
{"transform":[{"filter":"datum.b"}],"mark":{"type":"line","color":"#222","strokeWidth":1.5},"encoding":{"detail":{"field":"b"}}},
{"transform":[{"filter":"datum.b"}],"mark":{"type":"tick","orient":"vertical","color":"#222","size":9,"thickness":1.5},"encoding":{}},
{"transform":[{"filter":"datum.s"}],"mark":{"type":"text","fontWeight":"bold","fontSize":11,"dy":2,"color":"#222"},"encoding":{"text":{"field":"s"}}},
{"transform":[{"filter":"datum.l"}],"mark":{"type":"text","fontWeight":"bold","fontSize":12.8,"color":"#111"},"encoding":{"text":{"field":"l"}}}]}]},
{"width":265,"height":205,"data":{"values":[]},"mark":"point","encoding":{}},
{"width":190,"height":260,"resolve":{"scale":{"x":"independent","y":"independent"}},"layer":[
{"data":{"name":"c1"},"mark":"rect","encoding":{"x":{"field":"c","type":"ordinal","scale":{"type":"band","domain":[0,1,2,3,4,5,6,7,8,9,10,11,12,13],"range":[53.3,192.7],"paddingInner":0,"paddingOuter":0},"axis":null},"y":{"field":"r","type":"ordinal","scale":{"type":"band","domain":[0,1,2,3,4,5,6,7,8,9,10,11,12,13],"range":[87.3,231.3],"paddingInner":0,"paddingOuter":0},"axis":{"domain":false,"ticks":false,"labels":false,"title":"CAR","titleFontSize":13.5,"titleX":40,"titleY":150}},"color":{"field":"d","type":"ordinal","scale":{"domain":[1,2,3,4,5,6],"range":["#eef0fb","#d3d5f4","#a4a7e8","#6d72d4","#4a6fc0","#5c9c98"]},"legend":null}}},
{"data":{"name":"ov"},"transform":[{"filter":"datum.p=='C1'"}],"encoding":{"x":{"field":"x","type":"quantitative","scale":{"domain":[0,100],"range":[53.3,192.7],"nice":false},"axis":null},"y":{"field":"y","type":"quantitative","scale":{"domain":[0,100],"range":[87.3,231.3],"nice":false},"axis":null}},"layer":[
{"transform":[{"filter":"datum.k=='b'"}],"mark":{"type":"rect","fill":"white","fillOpacity":0,"stroke":"#808080","strokeWidth":1.5},"encoding":{"x2":{"field":"x2"},"y2":{"field":"y2"}}},
{"transform":[{"filter":"datum.k=='v'||datum.k=='h'"}],"mark":{"type":"line","color":"#3c3c3c","strokeWidth":1.5},"encoding":{"detail":{"field":"k"}}},
{"transform":[{"filter":"datum.n"}],"mark":{"type":"text","fontWeight":"bold","fontSize":10,"color":"#111"},"encoding":{"text":{"field":"n"}}},
{"transform":[{"filter":"datum.a"}],"mark":{"type":"text","fontWeight":"bold","fontSize":12.7,"color":"#111"},"encoding":{"text":{"field":"a"}}}]}]},
{"width":140,"height":260,"resolve":{"scale":{"x":"independent","y":"independent"}},"layer":[
{"data":{"name":"c2"},"mark":"rect","encoding":{"x":{"field":"c","type":"ordinal","scale":{"type":"band","domain":[0,1,2,3,4,5,6,7,8,9,10,11,12,13],"range":[4.7,143.7],"paddingInner":0,"paddingOuter":0},"axis":{"domain":false,"ticks":false,"labels":false,"offset":-28.7,"title":"CD26","titleFontSize":13,"titleX":76,"titleY":10}},"y":{"field":"r","type":"ordinal","scale":{"type":"band","domain":[0,1,2,3,4,5,6,7,8,9,10,11,12,13],"range":[87.3,231.3],"paddingInner":0,"paddingOuter":0},"axis":null},"color":{"field":"d","type":"ordinal","scale":{"domain":[1,2,3,4,5,6],"range":["#eef0fb","#d3d5f4","#a4a7e8","#6d72d4","#4a6fc0","#5c9c98"]},"legend":null}}},
{"data":{"name":"ov"},"transform":[{"filter":"datum.p=='C2'"}],"encoding":{"x":{"field":"x","type":"quantitative","scale":{"domain":[0,100],"range":[4.7,143.7],"nice":false},"axis":null},"y":{"field":"y","type":"quantitative","scale":{"domain":[0,100],"range":[87.3,231.3],"nice":false},"axis":null}},"layer":[
{"transform":[{"filter":"datum.k=='b'"}],"mark":{"type":"rect","fill":"white","fillOpacity":0,"stroke":"#808080","strokeWidth":1.5},"encoding":{"x2":{"field":"x2"},"y2":{"field":"y2"}}},
{"transform":[{"filter":"datum.k=='v'||datum.k=='h'"}],"mark":{"type":"line","color":"#3c3c3c","strokeWidth":1.5},"encoding":{"detail":{"field":"k"}}},
{"transform":[{"filter":"datum.n"}],"mark":{"type":"text","fontWeight":"bold","fontSize":10,"color":"#111"},"encoding":{"text":{"field":"n"}}},
{"transform":[{"filter":"datum.a"}],"mark":{"type":"text","fontWeight":"bold","fontSize":12.7,"color":"#111"},"encoding":{"text":{"field":"a"}}}]}]},
{"width":165,"height":260,"resolve":{"scale":{"x":"independent","y":"independent"}},"layer":[
{"data":{"name":"c3"},"mark":"rect","encoding":{"x":{"field":"c","type":"ordinal","scale":{"type":"band","domain":[0,1,2,3,4,5,6,7,8,9,10,11,12,13],"range":[5,144.7],"paddingInner":0,"paddingOuter":0},"axis":null},"y":{"field":"r","type":"ordinal","scale":{"type":"band","domain":[0,1,2,3,4,5,6,7,8,9,10,11,12,13],"range":[87.3,231.3],"paddingInner":0,"paddingOuter":0},"axis":null},"color":{"field":"d","type":"ordinal","scale":{"domain":[1,2,3,4,5,6],"range":["#eef0fb","#d3d5f4","#a4a7e8","#6d72d4","#4a6fc0","#5c9c98"]},"legend":null}}},
{"data":{"name":"ov"},"transform":[{"filter":"datum.p=='C3'"}],"encoding":{"x":{"field":"x","type":"quantitative","scale":{"domain":[0,100],"range":[5,144.7],"nice":false},"axis":null},"y":{"field":"y","type":"quantitative","scale":{"domain":[0,100],"range":[87.3,231.3],"nice":false},"axis":null}},"layer":[
{"transform":[{"filter":"datum.k=='b'"}],"mark":{"type":"rect","fill":"white","fillOpacity":0,"stroke":"#808080","strokeWidth":1.5},"encoding":{"x2":{"field":"x2"},"y2":{"field":"y2"}}},
{"transform":[{"filter":"datum.k=='v'||datum.k=='h'"}],"mark":{"type":"line","color":"#3c3c3c","strokeWidth":1.5},"encoding":{"detail":{"field":"k"}}},
{"transform":[{"filter":"datum.n"}],"mark":{"type":"text","fontWeight":"bold","fontSize":10,"color":"#111"},"encoding":{"text":{"field":"n"}}},
{"transform":[{"filter":"datum.a"}],"mark":{"type":"text","fontWeight":"bold","fontSize":12.7,"color":"#111"},"encoding":{"text":{"field":"a"}}}]}]},
{"width":265,"height":260,"resolve":{"scale":{"x":"independent"}},"layer":[
{"data":{"name":"bars"},"transform":[{"filter":"datum.p=='CD26'"}],"encoding":{"x":{"field":"g","type":"nominal","scale":{"type":"band","domain":["CAR","4/7 ICR-CAR","4/21 ICR-CAR"],"range":[30,236],"paddingInner":0,"paddingOuter":0},"axis":{"labelAngle":-45,"labelAlign":"right","labelBaseline":"middle","labelFontSize":12,"labelPadding":6,"title":null,"offset":-33}}},"layer":[
{"mark":{"type":"bar","width":48,"color":"black"},"encoding":{"y":{"field":"v","type":"quantitative","stack":null,"scale":{"domain":[0,80],"range":[227,72.3],"nice":false},"axis":{"values":[0,20,40,60,80],"format":"d","offset":-30,"title":"CD26ʰⁱᵍʰ CAR-T cell (%)","titleFontSize":12.8,"titlePadding":3}}}},
{"mark":{"type":"rule","color":"black","strokeWidth":2},"encoding":{"y":{"field":"v","type":"quantitative","scale":{"domain":[0,80],"range":[227,72.3],"nice":false}},"y2":{"field":"u"}}},
{"mark":{"type":"tick","color":"black","size":25,"thickness":2},"encoding":{"y":{"field":"u","type":"quantitative","scale":{"domain":[0,80],"range":[227,72.3],"nice":false}}}}]},
{"data":{"name":"brk"},"transform":[{"filter":"datum.p=='CD26'"}],"encoding":{"x":{"field":"x","type":"quantitative","scale":{"domain":[0,3],"range":[30,236],"nice":false},"axis":null},"y":{"field":"y","type":"quantitative","scale":{"domain":[0,80],"range":[227,72.3],"nice":false}}},"layer":[
{"transform":[{"filter":"datum.b"}],"mark":{"type":"line","color":"#222","strokeWidth":1.5},"encoding":{"detail":{"field":"b"}}},
{"transform":[{"filter":"datum.b"}],"mark":{"type":"tick","orient":"vertical","color":"#222","size":9,"thickness":1.5},"encoding":{}},
{"transform":[{"filter":"datum.s"}],"mark":{"type":"text","fontWeight":"bold","fontSize":12,"dy":2,"color":"#222"},"encoding":{"text":{"field":"s"}}}]}]},
{"width":190,"height":293,"resolve":{"scale":{"x":"independent","y":"independent"}},"layer":[
{"data":{"name":"d1"},"mark":"rect","encoding":{"x":{"field":"c","type":"ordinal","scale":{"type":"band","domain":[0,1,2,3,4,5,6,7,8,9,10,11,12,13],"range":[46.7,186.7],"paddingInner":0,"paddingOuter":0},"axis":null},"y":{"field":"r","type":"ordinal","scale":{"type":"band","domain":[0,1,2,3,4,5,6,7,8,9,10,11,12,13],"range":[85,229.3],"paddingInner":0,"paddingOuter":0},"axis":{"domain":false,"ticks":false,"labels":false,"title":"CAR","titleFontSize":13.5,"titleX":40,"titleY":157}},"color":{"field":"d","type":"ordinal","scale":{"domain":[1,2,3,4,5,6],"range":["#eef0fb","#d3d5f4","#a4a7e8","#6d72d4","#4a6fc0","#5c9c98"]},"legend":null}}},
{"data":{"name":"ov"},"transform":[{"filter":"datum.p=='D1'"}],"encoding":{"x":{"field":"x","type":"quantitative","scale":{"domain":[0,100],"range":[46.7,186.7],"nice":false},"axis":null},"y":{"field":"y","type":"quantitative","scale":{"domain":[0,100],"range":[85,229.3],"nice":false},"axis":null}},"layer":[
{"transform":[{"filter":"datum.k=='b'"}],"mark":{"type":"rect","fill":"white","fillOpacity":0,"stroke":"#808080","strokeWidth":1.5},"encoding":{"x2":{"field":"x2"},"y2":{"field":"y2"}}},
{"transform":[{"filter":"datum.k=='v'||datum.k=='h'"}],"mark":{"type":"line","color":"#3c3c3c","strokeWidth":1},"encoding":{"detail":{"field":"k"}}},
{"transform":[{"filter":"datum.n"}],"mark":{"type":"text","fontWeight":"bold","fontSize":10,"color":"#111"},"encoding":{"text":{"field":"n"}}},
{"transform":[{"filter":"datum.a"}],"mark":{"type":"text","fontWeight":"bold","fontSize":12.7,"color":"#111"},"encoding":{"text":{"field":"a"}}}]}]},
{"width":140,"height":293,"resolve":{"scale":{"x":"independent","y":"independent"}},"layer":[
{"data":{"name":"d2"},"mark":"rect","encoding":{"x":{"field":"c","type":"ordinal","scale":{"type":"band","domain":[0,1,2,3,4,5,6,7,8,9,10,11,12,13],"range":[-1,138.7],"paddingInner":0,"paddingOuter":0},"axis":{"domain":false,"ticks":false,"labels":false,"offset":-63.7,"title":"CXCR3","titleFontSize":13,"titleX":79.5,"titleY":10}},"y":{"field":"r","type":"ordinal","scale":{"type":"band","domain":[0,1,2,3,4,5,6,7,8,9,10,11,12,13],"range":[85,229.3],"paddingInner":0,"paddingOuter":0},"axis":null},"color":{"field":"d","type":"ordinal","scale":{"domain":[1,2,3,4,5,6],"range":["#eef0fb","#d3d5f4","#a4a7e8","#6d72d4","#4a6fc0","#5c9c98"]},"legend":null}}},
{"data":{"name":"ov"},"transform":[{"filter":"datum.p=='D2'"}],"encoding":{"x":{"field":"x","type":"quantitative","scale":{"domain":[0,100],"range":[-1,138.7],"nice":false},"axis":null},"y":{"field":"y","type":"quantitative","scale":{"domain":[0,100],"range":[85,229.3],"nice":false},"axis":null}},"layer":[
{"transform":[{"filter":"datum.k=='b'"}],"mark":{"type":"rect","fill":"white","fillOpacity":0,"stroke":"#808080","strokeWidth":1.5},"encoding":{"x2":{"field":"x2"},"y2":{"field":"y2"}}},
{"transform":[{"filter":"datum.k=='v'||datum.k=='h'"}],"mark":{"type":"line","color":"#3c3c3c","strokeWidth":1},"encoding":{"detail":{"field":"k"}}},
{"transform":[{"filter":"datum.n"}],"mark":{"type":"text","fontWeight":"bold","fontSize":10,"color":"#111"},"encoding":{"text":{"field":"n"}}},
{"transform":[{"filter":"datum.a"}],"mark":{"type":"text","fontWeight":"bold","fontSize":12.7,"color":"#111"},"encoding":{"text":{"field":"a"}}}]}]},
{"width":165,"height":293,"resolve":{"scale":{"x":"independent","y":"independent"}},"layer":[
{"data":{"name":"d3"},"mark":"rect","encoding":{"x":{"field":"c","type":"ordinal","scale":{"type":"band","domain":[0,1,2,3,4,5,6,7,8,9,10,11,12,13],"range":[0.7,141],"paddingInner":0,"paddingOuter":0},"axis":null},"y":{"field":"r","type":"ordinal","scale":{"type":"band","domain":[0,1,2,3,4,5,6,7,8,9,10,11,12,13],"range":[85,229.3],"paddingInner":0,"paddingOuter":0},"axis":null},"color":{"field":"d","type":"ordinal","scale":{"domain":[1,2,3,4,5,6],"range":["#eef0fb","#d3d5f4","#a4a7e8","#6d72d4","#4a6fc0","#5c9c98"]},"legend":null}}},
{"data":{"name":"ov"},"transform":[{"filter":"datum.p=='D3'"}],"encoding":{"x":{"field":"x","type":"quantitative","scale":{"domain":[0,100],"range":[0.7,141],"nice":false},"axis":null},"y":{"field":"y","type":"quantitative","scale":{"domain":[0,100],"range":[85,229.3],"nice":false},"axis":null}},"layer":[
{"transform":[{"filter":"datum.k=='b'"}],"mark":{"type":"rect","fill":"white","fillOpacity":0,"stroke":"#808080","strokeWidth":1.5},"encoding":{"x2":{"field":"x2"},"y2":{"field":"y2"}}},
{"transform":[{"filter":"datum.k=='v'||datum.k=='h'"}],"mark":{"type":"line","color":"#3c3c3c","strokeWidth":1},"encoding":{"detail":{"field":"k"}}},
{"transform":[{"filter":"datum.n"}],"mark":{"type":"text","fontWeight":"bold","fontSize":10,"color":"#111"},"encoding":{"text":{"field":"n"}}},
{"transform":[{"filter":"datum.a"}],"mark":{"type":"text","fontWeight":"bold","fontSize":12.7,"color":"#111"},"encoding":{"text":{"field":"a"}}}]}]},
{"width":265,"height":293,"resolve":{"scale":{"x":"independent"}},"layer":[
{"data":{"name":"bars"},"transform":[{"filter":"datum.p=='CXCR3'"}],"encoding":{"x":{"field":"g","type":"nominal","scale":{"type":"band","domain":["CAR","4/7 ICR-CAR","4/21 ICR-CAR"],"range":[29,238],"paddingInner":0,"paddingOuter":0},"axis":{"labelAngle":-45,"labelAlign":"right","labelBaseline":"middle","labelFontSize":11.5,"labelPadding":5,"title":null,"offset":-64.3}}},"layer":[
{"mark":{"type":"bar","width":48,"color":"black"},"encoding":{"y":{"field":"v","type":"quantitative","stack":null,"scale":{"domain":[0,80],"range":[228.7,88.3],"nice":false},"axis":{"values":[0,20,40,60,80],"format":"d","offset":-29,"title":"CXCR3⁺ CAR-T cells (%)","titleFontSize":11.6,"titlePadding":3}}}},
{"mark":{"type":"rule","color":"black","strokeWidth":2},"encoding":{"y":{"field":"v","type":"quantitative","scale":{"domain":[0,80],"range":[228.7,88.3],"nice":false}},"y2":{"field":"u"}}},
{"mark":{"type":"tick","color":"black","size":25,"thickness":2},"encoding":{"y":{"field":"u","type":"quantitative","scale":{"domain":[0,80],"range":[228.7,88.3],"nice":false}}}}]},
{"data":{"name":"brk"},"transform":[{"filter":"datum.p=='CXCR3'"}],"encoding":{"x":{"field":"x","type":"quantitative","scale":{"domain":[0,3],"range":[29,238],"nice":false},"axis":null},"y":{"field":"y","type":"quantitative","scale":{"domain":[0,80],"range":[228.7,88.3],"nice":false}}},"layer":[
{"transform":[{"filter":"datum.b"}],"mark":{"type":"line","color":"#222","strokeWidth":1.5},"encoding":{"detail":{"field":"b"}}},
{"transform":[{"filter":"datum.b"}],"mark":{"type":"tick","orient":"vertical","color":"#222","size":9,"thickness":1.5},"encoding":{}},
{"transform":[{"filter":"datum.s"}],"mark":{"type":"text","fontWeight":"bold","fontSize":12,"dy":2,"color":"#222"},"encoding":{"text":{"field":"s"}}}]}]}
]}
